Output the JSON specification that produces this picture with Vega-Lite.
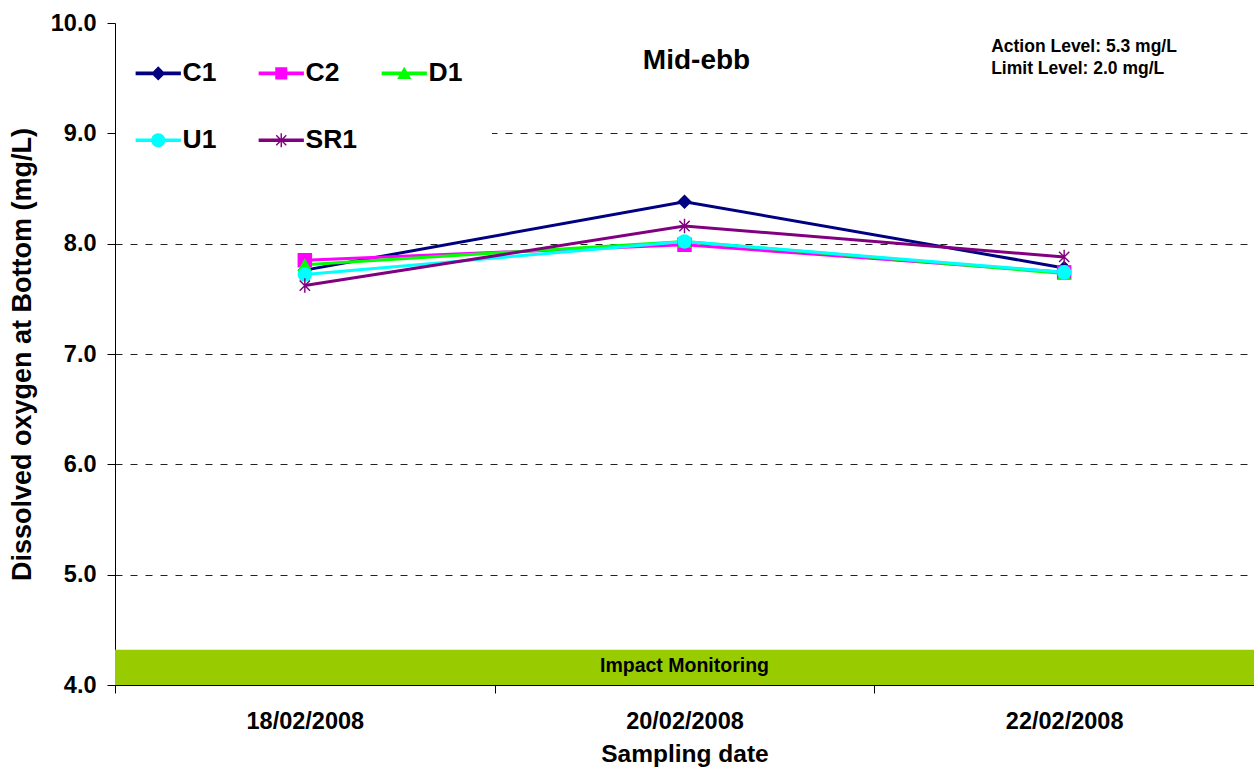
{
  "$schema": "https://vega.github.io/schema/vega-lite/v6.json",
  "autosize": {"type": "none"},
  "width": 1139,
  "height": 662,
  "padding": {"left": 115, "top": 23, "right": 0, "bottom": 84},
  "background": "white",
  "config": {
    "font": "Liberation Sans",
    "view": {"stroke": null},
    "axis": {"labelFont": "Liberation Sans", "titleFont": "Liberation Sans", "labelColor": "black", "titleColor": "black", "domainColor": "black", "tickColor": "black"}
  },
  "datasets": {
    "do": [
      {"date": "18/02/2008", "station": "C1", "value": 7.76},
      {"date": "20/02/2008", "station": "C1", "value": 8.38},
      {"date": "22/02/2008", "station": "C1", "value": 7.78},
      {"date": "18/02/2008", "station": "C2", "value": 7.85},
      {"date": "20/02/2008", "station": "C2", "value": 7.99},
      {"date": "22/02/2008", "station": "C2", "value": 7.74},
      {"date": "18/02/2008", "station": "D1", "value": 7.81},
      {"date": "20/02/2008", "station": "D1", "value": 8.02},
      {"date": "22/02/2008", "station": "D1", "value": 7.73},
      {"date": "18/02/2008", "station": "U1", "value": 7.72},
      {"date": "20/02/2008", "station": "U1", "value": 8.02},
      {"date": "22/02/2008", "station": "U1", "value": 7.74},
      {"date": "18/02/2008", "station": "SR1", "value": 7.62},
      {"date": "20/02/2008", "station": "SR1", "value": 8.16},
      {"date": "22/02/2008", "station": "SR1", "value": 7.88}
    ]
  },
  "resolve": {"scale": {"color": "independent", "shape": "independent"}},
  "layer": [
    {
      "data": {"values": [{"lo": 4, "hi": 4.32}]},
      "mark": {"type": "rect", "color": "#99CC00"},
      "encoding": {
        "y": {"field": "lo", "type": "quantitative", "scale": {"domain": [4, 10], "nice": false, "zero": false},
          "axis": {"values": [4, 5, 6, 7, 8, 9, 10], "format": ".1f", "labelFontSize": 23.5, "labelFontWeight": "bold", "labelPadding": 11, "tickSize": 8,
            "title": "Dissolved oxygen at Bottom (mg/L)", "titleFontSize": 27, "titleFontWeight": "bold", "titlePadding": 14,
            "grid": true, "gridColor": "#222222", "gridDash": [7, 8], "gridWidth": 1,
            "gridOpacity": {"condition": {"test": "datum.value == 10 || datum.value == 4", "value": 0}, "value": 1}}},
        "y2": {"field": "hi"}
      }
    },
    {
      "data": {"values": [{"date": "20/02/2008", "v": 4.17, "label": "Impact Monitoring"}]},
      "mark": {"type": "text", "fontSize": 19.5, "fontWeight": "bold", "color": "black", "align": "center", "baseline": "middle"},
      "encoding": {
        "x": {"field": "date", "type": "nominal"},
        "y": {"field": "v", "type": "quantitative"},
        "text": {"field": "label"}
      }
    },
    {
      "data": {"name": "do"},
      "mark": {"type": "line", "strokeWidth": 3},
      "encoding": {
        "x": {"field": "date", "type": "nominal", "sort": null,
          "scale": {"type": "band", "domain": ["18/02/2008", "20/02/2008", "22/02/2008"], "paddingInner": 0, "paddingOuter": 0},
          "axis": {"labelAngle": 0, "labelAlign": "center", "labelFontSize": 23.5, "labelFontWeight": "bold", "labelPadding": 28, "tickSize": 8, "tickBand": "extent",
            "title": "Sampling date", "titleFontSize": 24.5, "titleFontWeight": "bold", "titlePadding": 10, "grid": false}},
        "y": {"field": "value", "type": "quantitative"},
        "color": {"field": "station", "type": "nominal", "legend": null,
          "scale": {"domain": ["C1", "C2", "D1", "U1", "SR1"], "range": ["#000080", "#FF00FF", "#00FF00", "#00FFFF", "#800080"]}}
      }
    },
    {
      "data": {"name": "do"},
      "mark": {"type": "point", "filled": true, "opacity": 1, "size": 210},
      "encoding": {
        "x": {"field": "date", "type": "nominal"},
        "y": {"field": "value", "type": "quantitative"},
        "color": {"field": "station", "type": "nominal", "legend": null,
          "scale": {"domain": ["C1", "C2", "D1", "U1", "SR1"], "range": ["#000080", "#FF00FF", "#00FF00", "#00FFFF", "#800080"]}},
        "shape": {"field": "station", "type": "nominal", "legend": null,
          "scale": {"domain": ["C1", "C2", "D1", "U1", "SR1"], "range": ["diamond", "square", "triangle-up", "circle",
            "M-0.1,-1H0.1V1H-0.1Z M-0.78,-0.64L-0.64,-0.78L0.78,0.64L0.64,0.78Z M0.64,-0.78L0.78,-0.64L-0.64,0.78L-0.78,0.64Z"]}}
      }
    },
    {
      "data": {"values": [{"date": "20/02/2008", "v": 9.66, "label": "Mid-ebb"}]},
      "mark": {"type": "text", "fontSize": 28, "fontWeight": "bold", "color": "black", "align": "center", "baseline": "middle", "dx": 12},
      "encoding": {
        "x": {"field": "date", "type": "nominal"},
        "y": {"field": "v", "type": "quantitative"},
        "text": {"field": "label"}
      }
    },
    {
      "data": {"values": [{"date": "22/02/2008", "v": 9.78, "label": "Action Level: 5.3 mg/L"}, {"date": "22/02/2008", "v": 9.58, "label": "Limit Level: 2.0 mg/L"}]},
      "mark": {"type": "text", "fontSize": 17.5, "fontWeight": "bold", "color": "black", "align": "left", "baseline": "middle", "dx": -73},
      "encoding": {
        "x": {"field": "date", "type": "nominal"},
        "y": {"field": "v", "type": "quantitative"},
        "text": {"field": "label"}
      }
    },
    {
      "data": {"name": "do"},
      "transform": [{"filter": "false"}],
      "mark": {"type": "point", "filled": true},
      "encoding": {
        "x": {"field": "date", "type": "nominal"},
        "y": {"field": "value", "type": "quantitative"},
        "color": {"field": "station", "type": "nominal",
          "scale": {"domain": ["C1", "C2", "D1", "U1", "SR1"], "range": ["#000080", "#FF00FF", "#00FF00", "#00FFFF", "#800080"]},
          "legend": {"orient": "none", "direction": "horizontal", "legendX": 1, "legendY": 8, "columns": 3, "title": null, "symbolSize": 200,
            "labelFont": "Liberation Sans", "labelFontSize": 26.5, "labelFontWeight": "bold", "labelColor": "black", "labelOffset": 11,
            "columnPadding": 23, "rowPadding": 40, "padding": 29, "fillColor": "white", "strokeColor": null, "symbolOpacity": 1, "gridAlign": "all", "symbolStrokeWidth": 0}},
        "shape": {"field": "station", "type": "nominal",
          "scale": {"domain": ["C1", "C2", "D1", "U1", "SR1"], "range": [
            "M-3.2,-0.25H3.2V0.25H-3.2Z M-1,0L0,-1L1,0L0,1Z",
            "M-3.2,-0.25H3.2V0.25H-3.2Z M-0.85,-0.85H0.85V0.85H-0.85Z",
            "M-3.2,-0.25H3.2V0.25H-3.2Z M0,-0.95L1,0.8H-1Z",
            "M-3.2,-0.25H3.2V0.25H-3.2Z M1,0A1,1 0 1,1 -1,0A1,1 0 1,1 1,0Z",
            "M-3.2,-0.25H3.2V0.25H-3.2Z M-0.1,-1H0.1V1H-0.1Z M-0.78,-0.64L-0.64,-0.78L0.78,0.64L0.64,0.78Z M0.64,-0.78L0.78,-0.64L-0.64,0.78L-0.78,0.64Z"]},
          "legend": {"orient": "none", "direction": "horizontal", "legendX": 1, "legendY": 8, "columns": 3, "title": null, "symbolSize": 200,
            "labelFont": "Liberation Sans", "labelFontSize": 26.5, "labelFontWeight": "bold", "labelColor": "black", "labelOffset": 11,
            "columnPadding": 23, "rowPadding": 40, "padding": 29, "fillColor": "white", "strokeColor": null, "symbolOpacity": 1, "gridAlign": "all", "symbolStrokeWidth": 0}}
      }
    }
  ]
}
